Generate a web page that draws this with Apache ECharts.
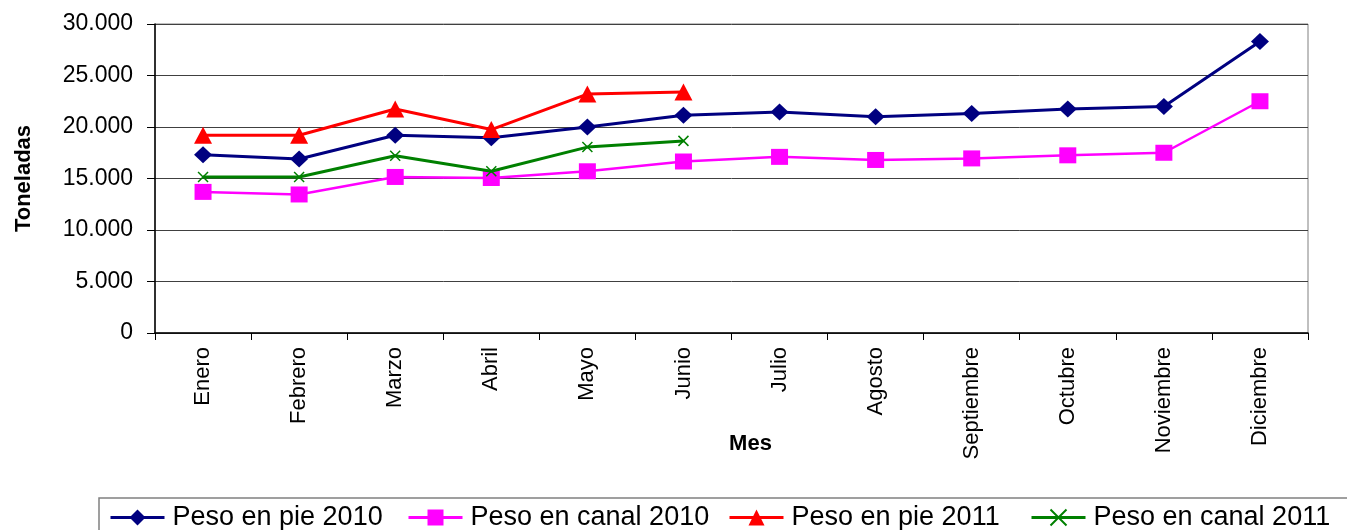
<!DOCTYPE html>
<html>
<head>
<meta charset="utf-8">
<title>Peso</title>
<script src="https://cdn.jsdelivr.net/npm/echarts@6/dist/echarts.min.js"></script>
<style>
  html, body { margin: 0; padding: 0; background: #fff; }
  #main { width: 1347px; height: 530px; }
</style>
</head>
<body>
<div id="main"></div>
<script>
var meses = ['Enero', 'Febrero', 'Marzo', 'Abril', 'Mayo', 'Junio', 'Julio', 'Agosto', 'Septiembre', 'Octubre', 'Noviembre', 'Diciembre'];
var pie2010 = [17300, 16900, 19200, 18950, 20000, 21150, 21450, 21000, 21300, 21750, 22000, 28300];
var canal2010 = [13700, 13450, 15150, 15050, 15700, 16650, 17100, 16800, 16950, 17250, 17500, 22500];
var pie2011 = [19200, 19200, 21750, 19750, 23200, 23400];
var canal2011 = [15150, 15150, 17200, 15700, 18050, 18650];

var fuente = 'Liberation Sans, Arial, sans-serif';

// 格式: 30000 -> 30.000
function miles(v) {
    return String(v).replace(/\B(?=(\d{3})+(?!\d))/g, '.');
}

function leyenda(nombre, x) {
    return {
        data: [nombre],
        left: x,
        top: 504,
        padding: 0,
        itemWidth: 54,
        itemHeight: 20,
        itemGap: 0,
        lineStyle: { width: 3 },
        textStyle: { fontFamily: fuente, fontSize: 27, color: '#000', padding: [0, 0, 0, 3] }
    };
}

var myChart = echarts.init(document.getElementById('main'));
var option = {
    backgroundColor: '#fff',
    animation: false,
    grid: {
        left: 155,
        right: 39,
        top: 24,
        bottom: 197,
        show: true,
        borderColor: '#808080',
        borderWidth: 1
    },
    legend: [
        leyenda('Peso en pie 2010', 109),
        leyenda('Peso en canal 2010', 407),
        leyenda('Peso en pie 2011', 728),
        leyenda('Peso en canal 2011', 1030)
    ],
    graphic: [{
        type: 'rect',
        shape: { x: 99, y: 498, width: 1300, height: 80 },
        style: { fill: 'none', stroke: '#808080', lineWidth: 1.5 },
        silent: true
    }],
    xAxis: {
        type: 'category',
        data: meses,
        boundaryGap: true,
        name: 'Mes',
        nameLocation: 'middle',
        nameGap: 111,
        nameMoveOverlap: false,
        nameTextStyle: {
            fontFamily: fuente, fontSize: 22, fontWeight: 'bold', color: '#000',
            verticalAlign: 'middle', padding: [0, 0, 0, 38]
        },
        axisLine: { lineStyle: { color: '#000', width: 1.5 } },
        axisTick: { show: true, length: 7, lineStyle: { color: '#000' } },
        axisLabel: {
            rotate: 90,
            margin: 14,
            interval: 0,
            fontFamily: fuente,
            fontSize: 22,
            color: '#000'
        },
        splitLine: { show: false }
    },
    yAxis: {
        type: 'value',
        min: 0,
        max: 30000,
        interval: 5000,
        name: 'Toneladas',
        nameLocation: 'middle',
        nameGap: 120,
        nameMoveOverlap: false,
        nameTextStyle: { fontFamily: fuente, fontSize: 22, fontWeight: 'bold', color: '#000' },
        axisLine: { show: true, lineStyle: { color: '#000', width: 1.5 } },
        axisTick: { show: true, length: 8, lineStyle: { color: '#000' } },
        axisLabel: {
            margin: 22,
            fontFamily: fuente,
            fontSize: 23,
            color: '#000',
            formatter: miles
        },
        splitLine: { show: true, lineStyle: { color: '#404040', width: 1 } }
    },
    series: [
        {
            name: 'Peso en pie 2010',
            type: 'line',
            data: pie2010,
            symbol: 'diamond',
            symbolSize: [18, 17],
            itemStyle: { color: '#000080' },
            lineStyle: { color: '#000080', width: 3 },
            z: 4
        },
        {
            name: 'Peso en canal 2010',
            type: 'line',
            data: canal2010,
            symbol: 'rect',
            symbolSize: [17, 16],
            itemStyle: { color: '#FF00FF' },
            lineStyle: { color: '#FF00FF', width: 2.5 },
            z: 3
        },
        {
            name: 'Peso en pie 2011',
            type: 'line',
            data: pie2011,
            symbol: 'triangle',
            symbolSize: [18, 17],
            itemStyle: { color: '#FF0000' },
            lineStyle: { color: '#FF0000', width: 3 },
            z: 5
        },
        {
            name: 'Peso en canal 2011',
            type: 'line',
            data: canal2011,
            symbol: 'path://M0,0L10,10M10,0L0,10',
            symbolSize: 10,
            itemStyle: { color: '#008000', borderColor: '#008000', borderWidth: 1.5 },
            lineStyle: { color: '#008000', width: 3 },
            z: 4
        }
    ]
};
myChart.setOption(option);
</script>
</body>
</html>
